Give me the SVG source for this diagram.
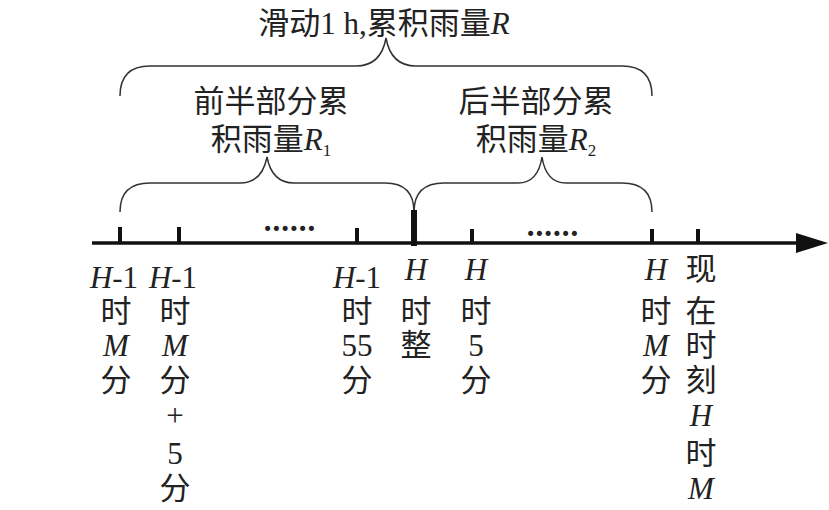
<svg xmlns="http://www.w3.org/2000/svg" width="829" height="510" viewBox="0 0 829 510">
<style>
text{font-family:"Liberation Serif","Noto Sans CJK SC",serif;font-size:31px;fill:#222;text-anchor:middle}
.i{font-style:italic}
.b{fill:none;stroke:#333;stroke-width:1.5}
.t{stroke:#111;stroke-width:4}
</style>
<rect width="829" height="510" fill="#fff"/>
<g id="connectors">
<line x1="92" y1="243" x2="800" y2="243" stroke="#111" stroke-width="3.5"/>
<polygon points="796,233 828,243 796,253" fill="#111"/>
<path class="b" d="M120,96 Q120,66 150,66 L356,66 Q381,66 386,38 Q391,66 416,66 L622,66 Q652,66 652,96"/>
<path class="b" d="M120,212 Q120,183 150,183 L240,183 Q262,183 267,157 Q272,183 294,183 L385,183 Q414,183 414,212"/>
<path class="b" d="M414,212 Q414,183 444,183 L518,183 Q538,183 542,157 Q546,183 566,183 L622,183 Q652,183 652,212"/>
</g>
<g id="ticks">
<line class="t" x1="120" y1="227" x2="120" y2="243"/>
<line class="t" x1="179" y1="227" x2="179" y2="243"/>
<line class="t" x1="357" y1="228" x2="357" y2="243"/>
<line x1="414" y1="210" x2="414" y2="246" stroke="#111" stroke-width="6"/>
<line class="t" x1="472" y1="229" x2="472" y2="243"/>
<line class="t" x1="652" y1="229" x2="652" y2="243"/>
<line class="t" x1="698" y1="229" x2="698" y2="243"/>
</g>
<g id="titles">
<text x="384" y="34">滑动1 h,累积雨量<tspan class="i">R</tspan></text>
<text x="271" y="112">前半部分累</text>
<text x="271" y="150">积雨量<tspan class="i">R</tspan><tspan font-size="17" dy="6">1</tspan></text>
<text x="536" y="112">后半部分累</text>
<text x="536" y="150">积雨量<tspan class="i">R</tspan><tspan font-size="17" dy="6">2</tspan></text>
<text x="290" y="231" font-weight="bold" letter-spacing="1">......</text>
<text x="553" y="236" font-weight="bold" letter-spacing="1">......</text>
</g>
<g id="l1"><text x="114" y="288"><tspan class="i">H</tspan>-1</text><text x="116" y="322">时</text><text x="116" y="356" class="i">M</text><text x="116" y="391">分</text></g>
<g id="l2"><text x="173" y="288"><tspan class="i">H</tspan>-1</text><text x="175" y="322">时</text><text x="175" y="356" class="i">M</text><text x="175" y="391">分</text><text x="175" y="426">+</text><text x="175" y="464">5</text><text x="175" y="499">分</text></g>
<g id="l3"><text x="357" y="288"><tspan class="i">H</tspan>-1</text><text x="357" y="322">时</text><text x="357" y="356">55</text><text x="357" y="391">分</text></g>
<g id="l4"><text x="416" y="280" class="i">H</text><text x="416" y="322">时</text><text x="416" y="356">整</text></g>
<g id="l5"><text x="476" y="280" class="i">H</text><text x="476" y="322">时</text><text x="476" y="356">5</text><text x="476" y="391">分</text></g>
<g id="l6"><text x="656" y="280" class="i">H</text><text x="656" y="322">时</text><text x="656" y="356" class="i">M</text><text x="656" y="391">分</text></g>
<g id="l7"><text x="701" y="280">现</text><text x="701" y="322">在</text><text x="701" y="356">时</text><text x="701" y="391">刻</text><text x="701" y="426" class="i">H</text><text x="701" y="464">时</text><text x="701" y="499" class="i">M</text></g>
</svg>
